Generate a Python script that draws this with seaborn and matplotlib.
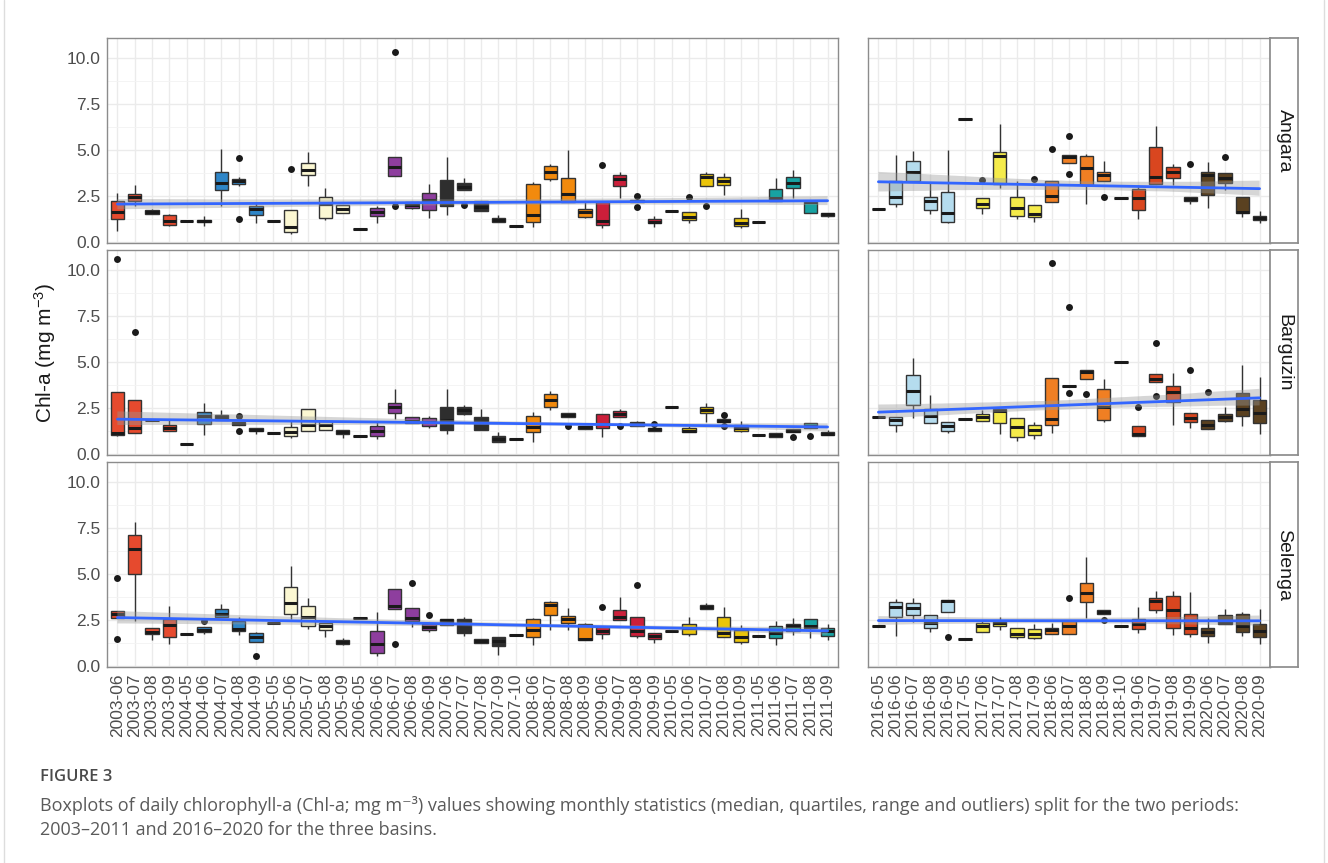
import numpy as np
import pandas as pd
import seaborn as sns
import matplotlib.pyplot as plt
from matplotlib.lines import Line2D

# month categories of the two periods
months_0311 = ['2003-06', '2003-07', '2003-08', '2003-09',
               '2004-05', '2004-06', '2004-07', '2004-08', '2004-09',
               '2005-05', '2005-06', '2005-07', '2005-08', '2005-09',
               '2006-05', '2006-06', '2006-07', '2006-08', '2006-09',
               '2007-06', '2007-07', '2007-08', '2007-09', '2007-10',
               '2008-06', '2008-07', '2008-08', '2008-09',
               '2009-06', '2009-07', '2009-08', '2009-09',
               '2010-05', '2010-06', '2010-07', '2010-08', '2010-09',
               '2011-05', '2011-06', '2011-07', '2011-08', '2011-09']
months_1620 = ['2016-05', '2016-06', '2016-07', '2016-08', '2016-09',
               '2017-05', '2017-06', '2017-07', '2017-08', '2017-09',
               '2018-06', '2018-07', '2018-08', '2018-09', '2018-10',
               '2019-06', '2019-07', '2019-08', '2019-09',
               '2020-06', '2020-07', '2020-08', '2020-09']

year_colors = {'2003': '#E64A2E', '2004': '#2F86C8', '2005': '#FBF7D2',
               '2006': '#8E3E9E', '2007': '#2E2E2E', '2008': '#F28A0D',
               '2009': '#CC1F3A', '2010': '#EBC50A', '2011': '#17A2A2',
               '2016': '#B5DCEE', '2017': '#F5EB4A', '2018': '#F07F23',
               '2019': '#D9461F', '2020': '#5A4120'}

# (low whisker, q1, median, q3, high whisker) for each month
angara_0311 = [
    (0.56, 1.25, 1.63, 2.19, 2.64), (1.97, 2.23, 2.41, 2.61, 3.10), (1.50, 1.52, 1.63, 1.74, 1.76),
    (0.83, 0.92, 1.14, 1.45, 1.52), (1.14, 1.14, 1.14, 1.14, 1.14), (0.87, 1.05, 1.12, 1.20, 1.38),
    (1.97, 2.83, 3.22, 3.77, 5.05), (3.05, 3.12, 3.33, 3.44, 3.50), (1.01, 1.45, 1.79, 1.97, 2.14),
    (1.12, 1.12, 1.12, 1.12, 1.12), (0.43, 0.53, 0.78, 1.72, 1.72), (3.06, 3.61, 3.93, 4.28, 4.87),
    (1.20, 1.27, 2.08, 2.46, 2.92), (1.55, 1.58, 1.78, 1.99, 2.00), (0.71, 0.71, 0.71, 0.71, 0.71),
    (1.01, 1.41, 1.63, 1.83, 1.97), (3.59, 3.59, 4.09, 4.60, 4.60), (1.80, 1.83, 1.99, 2.14, 2.16),
    (1.29, 1.74, 2.28, 2.64, 3.15), (1.43, 1.92, 2.14, 3.37, 4.62), (2.79, 2.79, 3.00, 3.22, 3.48),
    (1.65, 1.65, 1.90, 2.23, 2.23), (1.05, 1.05, 1.16, 1.27, 1.47), (0.87, 0.87, 0.87, 0.87, 0.87),
    (0.82, 1.07, 1.43, 3.13, 3.24), (3.28, 3.44, 3.79, 4.13, 4.22), (2.16, 2.16, 2.59, 3.48, 5.00),
    (1.29, 1.34, 1.63, 1.79, 2.19), (0.76, 0.89, 1.14, 2.16, 2.16), (2.37, 3.01, 3.42, 3.64, 3.77),
    (2.16, 2.16, 2.19, 2.25, 2.25), (0.80, 1.01, 1.10, 1.21, 1.38), (1.67, 1.67, 1.67, 1.67, 1.67),
    (1.01, 1.18, 1.34, 1.63, 1.63), (3.01, 3.01, 3.51, 3.66, 3.82), (2.57, 3.08, 3.28, 3.51, 3.73),
    (0.72, 0.83, 1.03, 1.27, 1.78), (1.07, 1.07, 1.07, 1.07, 1.07), (2.19, 2.19, 2.37, 2.86, 3.46),
    (2.37, 2.95, 3.22, 3.50, 3.91), (1.56, 1.56, 2.14, 2.23, 2.23), (1.32, 1.41, 1.50, 1.59, 1.59)]
angara_0311_out = {'2004-08': [4.55, 1.23], '2005-06': [3.95], '2006-07': [10.31, 1.92],
                   '2007-07': [2.01], '2009-06': [4.18], '2009-08': [2.48, 1.88],
                   '2010-06': [2.41], '2010-07': [1.97]}

angara_1620 = [
    (1.78, 1.78, 1.78, 1.78, 1.78), (1.90, 2.03, 2.46, 3.28, 4.73), (3.28, 3.28, 3.79, 4.42, 4.96),
    (1.50, 1.72, 2.19, 2.43, 3.24), (1.03, 1.09, 1.56, 2.70, 5.00), (6.67, 6.67, 6.67, 6.67, 6.67),
    (1.50, 1.83, 2.03, 2.36, 2.36), (2.92, 3.15, 4.67, 4.89, 6.39), (1.25, 1.41, 1.81, 2.41, 3.28),
    (1.05, 1.32, 1.50, 2.01, 2.01), (2.17, 2.17, 2.50, 3.33, 3.33), (4.31, 4.31, 4.60, 4.71, 4.71),
    (2.05, 3.08, 3.99, 4.64, 4.78), (3.32, 3.32, 3.62, 3.82, 4.38), (2.36, 2.36, 2.36, 2.36, 2.36),
    (1.25, 1.74, 2.37, 2.86, 3.10), (3.13, 3.13, 3.55, 5.18, 6.29), (3.10, 3.46, 3.79, 4.09, 4.22),
    (2.05, 2.23, 2.34, 2.43, 2.43), (1.83, 2.52, 3.61, 3.82, 4.33), (2.79, 3.19, 3.46, 3.73, 3.73),
    (1.34, 1.56, 1.63, 2.41, 2.41), (1.00, 1.16, 1.29, 1.41, 1.65)]
angara_1620_out = {'2017-06': [3.37], '2017-09': [3.41], '2018-06': [5.05], '2018-07': [5.76, 3.70],
                   '2018-09': [2.46], '2019-09': [4.22], '2020-07': [4.60]}

barguzin_0311 = [
    (0.94, 1.01, 1.12, 3.37, 3.37), (1.11, 1.11, 1.41, 2.93, 2.93), (1.83, 1.83, 1.83, 1.83, 1.83),
    (1.21, 1.21, 1.39, 1.58, 1.83), (0.51, 0.51, 0.51, 0.51, 0.51), (1.01, 1.63, 2.07, 2.28, 2.74),
    (1.85, 1.85, 1.99, 2.10, 2.37), (1.59, 1.59, 1.65, 1.70, 1.70), (1.10, 1.21, 1.30, 1.38, 1.38),
    (1.14, 1.14, 1.14, 1.14, 1.14), (0.87, 0.96, 1.16, 1.45, 1.78), (1.21, 1.21, 1.55, 2.41, 2.41),
    (1.30, 1.30, 1.54, 1.78, 1.78), (0.83, 1.09, 1.20, 1.30, 1.30), (0.96, 0.96, 0.96, 0.96, 0.96),
    (0.82, 0.98, 1.23, 1.50, 1.70), (1.88, 2.19, 2.55, 2.75, 3.53), (1.67, 1.67, 1.79, 1.99, 1.99),
    (1.38, 1.50, 1.74, 1.92, 2.03), (1.07, 1.30, 1.85, 2.54, 3.55), (2.10, 2.16, 2.39, 2.52, 2.63),
    (1.29, 1.29, 1.70, 1.99, 2.43), (0.63, 0.63, 0.80, 0.94, 1.18), (0.80, 0.80, 0.80, 0.80, 0.80),
    (0.62, 1.20, 1.43, 2.08, 2.25), (2.39, 2.52, 2.92, 3.24, 3.41), (1.99, 1.99, 2.10, 2.21, 2.21),
    (1.32, 1.32, 1.43, 1.50, 1.50), (0.92, 1.38, 1.61, 2.14, 2.14), (2.01, 2.01, 2.16, 2.34, 2.46),
    (1.52, 1.52, 1.61, 1.72, 1.80), (1.25, 1.25, 1.34, 1.41, 1.41), (2.55, 2.55, 2.55, 2.55, 2.55),
    (1.16, 1.16, 1.25, 1.38, 1.52), (1.70, 2.19, 2.39, 2.57, 2.77), (1.74, 1.74, 1.79, 1.87, 1.87),
    (1.16, 1.25, 1.38, 1.56, 1.79), (1.03, 1.03, 1.03, 1.03, 1.03), (0.89, 0.89, 1.01, 1.14, 1.14),
    (1.16, 1.16, 1.23, 1.32, 1.32), (1.38, 1.38, 1.50, 1.67, 1.67), (1.00, 1.00, 1.10, 1.20, 1.29)]
barguzin_0311_out = {'2003-06': [10.62], '2003-07': [6.65], '2004-08': [2.07, 1.25],
                     '2008-08': [1.52], '2009-07': [1.52], '2009-09': [1.61],
                     '2010-08': [2.10, 1.52], '2011-07': [0.91], '2011-08': [0.98]}

barguzin_1620 = [
    (2.01, 2.01, 2.01, 2.01, 2.01), (1.20, 1.59, 1.85, 2.01, 2.01), (1.97, 2.63, 3.42, 4.28, 5.20),
    (1.65, 1.65, 2.05, 2.43, 3.21), (1.12, 1.23, 1.50, 1.72, 1.72), (1.90, 1.90, 1.90, 1.90, 1.90),
    (1.76, 1.76, 1.99, 2.14, 2.39), (1.07, 1.67, 2.34, 2.43, 2.43), (0.71, 0.89, 1.47, 1.97, 1.97),
    (0.80, 1.01, 1.29, 1.56, 1.74), (1.14, 1.54, 1.87, 4.11, 4.11), (3.68, 3.68, 3.68, 3.68, 3.68),
    (4.08, 4.08, 4.47, 4.58, 4.58), (1.72, 1.85, 2.55, 3.50, 4.09), (5.00, 5.00, 5.00, 5.00, 5.00),
    (0.96, 0.96, 1.07, 1.49, 1.49), (3.93, 3.93, 4.09, 4.33, 4.33), (1.55, 2.83, 3.37, 3.71, 4.37),
    (1.41, 1.70, 1.94, 2.19, 2.19), (1.36, 1.36, 1.59, 1.83, 1.83), (1.72, 1.79, 2.01, 2.16, 2.54),
    (1.52, 2.05, 2.45, 3.28, 4.84), (1.10, 1.67, 2.19, 2.95, 4.15)]
barguzin_1620_out = {'2018-06': [10.40], '2018-07': [7.99, 3.30], '2018-08': [3.26],
                     '2019-06': [2.57], '2019-07': [6.00, 3.15], '2019-09': [4.55],
                     '2020-06': [3.37]}

selenga_0311 = [
    (2.61, 2.61, 2.81, 2.99, 2.99), (2.43, 4.98, 6.34, 7.12, 7.84), (1.39, 1.72, 1.85, 2.07, 2.07),
    (1.16, 1.56, 2.19, 2.54, 3.24), (1.70, 1.70, 1.70, 1.70, 1.70), (1.72, 1.85, 1.97, 2.10, 2.10),
    (2.63, 2.63, 2.79, 3.08, 3.35), (1.68, 1.88, 2.01, 2.45, 2.64), (1.27, 1.27, 1.59, 1.76, 1.83),
    (2.30, 2.30, 2.30, 2.30, 2.30), (2.55, 2.81, 3.42, 4.28, 5.42), (2.01, 2.14, 2.66, 3.24, 3.68),
    (1.54, 1.94, 2.16, 2.30, 2.30), (1.11, 1.18, 1.29, 1.39, 1.52), (2.61, 2.61, 2.61, 2.61, 2.61),
    (0.53, 0.71, 1.18, 1.87, 2.92), (3.08, 3.08, 3.26, 4.18, 4.18), (2.10, 2.46, 2.61, 3.15, 3.15),
    (1.85, 1.92, 2.10, 2.25, 2.25), (2.19, 2.19, 2.48, 2.52, 2.52), (1.63, 1.76, 2.21, 2.52, 2.64),
    (1.23, 1.23, 1.36, 1.47, 1.47), (0.56, 1.09, 1.36, 1.56, 1.56), (1.65, 1.65, 1.65, 1.65, 1.65),
    (1.11, 1.56, 1.97, 2.52, 2.61), (1.97, 2.77, 3.28, 3.46, 3.55), (1.96, 2.32, 2.55, 2.72, 3.15),
    (1.39, 1.39, 1.47, 2.25, 2.32), (1.47, 1.70, 1.90, 2.10, 2.10), (2.48, 2.48, 2.64, 3.06, 3.75),
    (1.50, 1.61, 1.90, 2.63, 2.63), (1.25, 1.45, 1.63, 1.76, 1.76), (1.87, 1.87, 1.87, 1.87, 1.87),
    (1.63, 1.74, 2.05, 2.26, 2.66), (3.10, 3.10, 3.19, 3.28, 3.39), (1.54, 1.54, 1.79, 2.64, 3.19),
    (1.20, 1.29, 1.59, 1.92, 2.19), (1.63, 1.63, 1.63, 1.63, 1.63), (1.14, 1.52, 1.79, 2.16, 2.41),
    (1.65, 1.90, 2.16, 2.28, 2.61), (1.49, 2.07, 2.16, 2.57, 2.57), (1.41, 1.61, 1.90, 2.07, 2.25)]
selenga_0311_out = {'2003-06': [4.75, 1.47], '2004-06': [2.46], '2004-09': [0.54],
                    '2006-07': [1.16], '2006-08': [4.49], '2006-09': [2.77],
                    '2009-06': [3.17], '2009-08': [4.37]}

selenga_1620 = [
    (2.17, 2.17, 2.17, 2.17, 2.17), (1.63, 2.64, 3.19, 3.46, 3.62), (2.36, 2.75, 3.13, 3.44, 3.68),
    (1.83, 2.08, 2.32, 2.75, 2.75), (2.92, 2.92, 3.50, 3.59, 3.59), (1.47, 1.47, 1.47, 1.47, 1.47),
    (1.85, 1.85, 2.14, 2.32, 2.46), (1.96, 2.14, 2.32, 2.46, 2.64), (1.43, 1.56, 1.74, 2.03, 2.03),
    (1.43, 1.52, 1.72, 1.99, 2.28), (1.74, 1.74, 1.92, 2.07, 2.32), (1.72, 1.72, 2.14, 2.43, 2.43),
    (2.59, 3.46, 3.95, 4.51, 5.91), (2.83, 2.83, 2.92, 3.01, 3.01), (2.14, 2.14, 2.14, 2.14, 2.14),
    (1.79, 2.01, 2.25, 2.52, 3.19), (2.88, 3.06, 3.55, 3.68, 4.09), (1.68, 2.08, 3.01, 3.82, 4.08),
    (1.59, 1.74, 2.03, 2.83, 4.02), (1.21, 1.61, 1.83, 2.03, 2.59), (2.25, 2.25, 2.34, 2.75, 3.10),
    (1.61, 1.81, 2.14, 2.83, 2.95), (1.20, 1.59, 1.87, 2.25, 3.08)]
selenga_1620_out = {'2016-09': [1.58], '2018-07': [3.70], '2018-09': [2.50]}

basins = ['Angara', 'Barguzin', 'Selenga']
panel_data = {
    ('Angara', 0): (angara_0311, angara_0311_out), ('Angara', 1): (angara_1620, angara_1620_out),
    ('Barguzin', 0): (barguzin_0311, barguzin_0311_out), ('Barguzin', 1): (barguzin_1620, barguzin_1620_out),
    ('Selenga', 0): (selenga_0311, selenga_0311_out), ('Selenga', 1): (selenga_1620, selenga_1620_out),
}
period_months = [months_0311, months_1620]

sns.set_theme(style='white')
plt.rcParams['font.family'] = ['Liberation Sans', 'DejaVu Sans']
plt.rcParams['mathtext.fontset'] = 'custom'
plt.rcParams['mathtext.rm'] = 'Liberation Sans'
plt.rcParams['mathtext.it'] = 'Liberation Sans:italic'

W, H = 1328, 863
fig = plt.figure(figsize=(W / 100, H / 100), dpi=100)

col_x = [(107, 731), (868, 402)]
row_top = [38, 250, 462]
row_h = 205


def box_frame(months, boxes):
    rows = []
    for m, stats in zip(months, boxes):
        for v in stats:
            rows.append((m, m[:4], v))
    return pd.DataFrame(rows, columns=['month', 'year', 'chla'])


for r, basin in enumerate(basins):
    for c in range(2):
        x0, w = col_x[c]
        ax = fig.add_axes([x0 / W, 1 - (row_top[r] + row_h) / H, w / W, row_h / H])
        months = period_months[c]
        boxes, outl = panel_data[(basin, c)]
        df = box_frame(months, boxes)
        od = pd.DataFrame([(m, v) for m, vals in outl.items() for v in vals],
                          columns=['month', 'chla'])
        years = sorted(df['year'].unique())

        sns.boxplot(data=df, x='month', y='chla', hue='year', order=months, hue_order=years,
                    palette=year_colors, dodge=False, whis=(0, 100), width=0.78, saturation=1,
                    linecolor='#333333', linewidth=1.0, showcaps=False, legend=False,
                    medianprops={'color': '#1a1a1a', 'linewidth': 2.2}, ax=ax)
        sns.stripplot(data=od, x='month', y='chla', order=months, jitter=False,
                      color='#1a1a1a', size=5, ax=ax)

        # linear trend fitted on the plotted values
        pos = {m: i for i, m in enumerate(months)}
        reg = pd.concat([df[['month', 'chla']], od], ignore_index=True)
        reg['x'] = reg['month'].map(pos)
        n_coll = len(ax.collections)
        n_lines = len(ax.lines)
        sns.regplot(data=reg, x='x', y='chla', scatter=False, color='#3366FF', seed=3,
                    line_kws={'lw': 2.0}, ax=ax)
        for coll in ax.collections[n_coll:]:
            coll.set_facecolor('#999999')
            coll.set_alpha(0.4)
            coll.set_edgecolor('none')
            coll.set_zorder(4)
        for ln in ax.lines[n_lines:]:
            ln.set_zorder(5)

        ax.set_xlim(-0.6, len(months) - 0.4)
        ax.set_ylim(-0.07, 11.09)
        ax.set_xlabel('')
        ax.set_ylabel('')
        ax.set_xticks(range(len(months)))
        ax.set_yticks([0, 2.5, 5, 7.5, 10])
        ax.set_yticks([1.25, 3.75, 6.25, 8.75], minor=True)
        ax.set_axisbelow(True)
        ax.grid(which='major', color='#EBEBEB', lw=1.0)
        ax.grid(which='minor', axis='y', color='#F3F3F3', lw=0.6)
        for s in ax.spines.values():
            s.set_color('#8c8c8c')
            s.set_linewidth(1.0)
        ax.tick_params(axis='both', which='major', length=3, width=0.8, color='#4D4D4D',
                       labelsize=12.5, labelcolor='#4D4D4D', pad=1.5)
        ax.tick_params(axis='y', which='minor', length=0)
        if r == 2:
            ax.set_xticklabels(months, rotation=90)
        else:
            ax.set_xticklabels([])
        if c == 0:
            ax.set_yticklabels(['0.0', '2.5', '5.0', '7.5', '10.0'])
        else:
            ax.set_yticklabels([])
            ax.tick_params(axis='y', length=0)

    # facet strip on the right
    sax = fig.add_axes([1270 / W, 1 - (row_top[r] + row_h) / H, 28 / W, row_h / H])
    sax.set_xticks([])
    sax.set_yticks([])
    for s in sax.spines.values():
        s.set_color('#8c8c8c')
    sax.text(0.5, 0.5, basin, rotation=-90, ha='center', va='center', fontsize=14,
             color='#1a1a1a', transform=sax.transAxes)

fig.text(45 / W, 1 - 353 / H, 'Chl-a (mg m$^{-3}$)', rotation=90, ha='center', va='center',
         fontsize=15, color='#1a1a1a')

cap_font = ['Open Sans', 'DejaVu Sans']
fig.text(40 / W, 1 - 777 / H, 'FIGURE 3', ha='left', va='center', fontsize=12,
         fontweight='semibold', color='#4a4a4a', family=cap_font)
fig.text(40 / W, 1 - 805 / H,
         'Boxplots of daily chlorophyll-a (Chl-a; mg m\u207b\u00b3) values showing monthly statistics '
         '(median, quartiles, range and outliers) split for the two periods:',
         ha='left', va='center', fontsize=13.0, color='#5a5a5a', family=cap_font)
fig.text(40 / W, 1 - 830 / H, '2003\u20132011 and 2016\u20132020 for the three basins.',
         ha='left', va='center', fontsize=13.0, color='#5a5a5a', family=cap_font)

for xe in (4 / W, 1 - 4 / W):
    fig.add_artist(Line2D([xe, xe], [0, 1], transform=fig.transFigure, color='#dddddd', lw=1))

fig.savefig('out.png', dpi=100, facecolor='white')
